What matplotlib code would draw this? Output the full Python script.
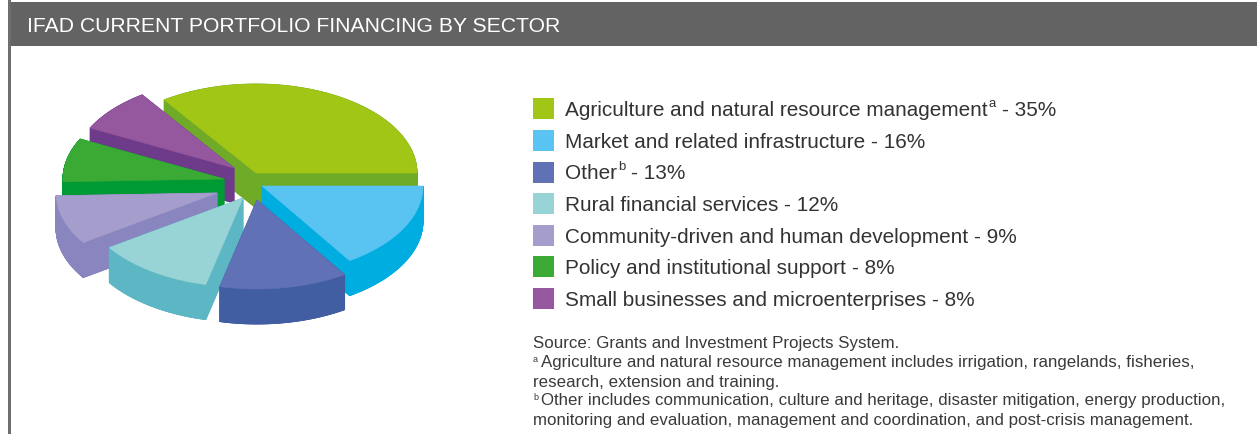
import numpy as np
import matplotlib
matplotlib.use("Agg")
import matplotlib.pyplot as plt

plt.rcParams['font.family'] = ['Liberation Sans', 'DejaVu Sans']

# data
sectors = ["Agriculture and natural resource management", "Market and related infrastructure", "Other",
           "Rural financial services", "Community-driven and human development",
           "Policy and institutional support", "Small businesses and microenterprises"]
shares = [35, 16, 13, 12, 9, 8, 8]
notes = ["a", "", "b", "", "", "", ""]
top_colors = ['#A2C616', '#59C3F2', '#6171B5', '#98D4D5', '#A59DCC', '#3BAA35', '#95579D']
side_colors = ['#70AB28', '#00ADE1', '#405EA1', '#5DB6C4', '#8885BF', '#009A35', '#6E3B8A']

title = "IFAD CURRENT PORTFOLIO FINANCING BY SECTOR"
source_lines = ["Source: Grants and Investment Projects System.",
                "Agriculture and natural resource management includes irrigation, rangelands, fisheries,",
                "research, extension and training.",
                "Other includes communication, culture and heritage, disaster mitigation, energy production,",
                "monitoring and evaluation, management and coordination, and post-crisis management."]
source_marks = ["", "a", "", "b", ""]

# pie geometry, pixels
apex = [(256, 173), (262, 186), (257, 200), (243, 198), (217, 193), (224, 179), (234, 168)]
rx, ry, depth = 161, 89, 35
draw_order = [0, 6, 5, 4, 1, 3, 2]

fig = plt.figure(figsize=(12.57, 4.34), dpi=100)
ax = fig.add_axes([0, 0, 1, 1])
ax.set_xlim(0, 1257)
ax.set_ylim(434, 0)
ax.axis('off')

# header and frame
ax.fill_between([9, 1257], 2, 46, color='#636363', lw=0)
ax.fill_between([8, 11], 0, 434, color='#6E6E6E', lw=0)
ax.text(27, 32, title, color='white', fontsize=15.2, va='baseline')

# slices go clockwise, the first one ends at 3 o'clock. shares add up to 101
deg = 360 / sum(shares)
ends = np.cumsum([0] + shares[1:]) * -deg
starts = [shares[0] * deg] + list(ends[:-1])
stops = [0] + list(ends[1:])


def slice_outline(i):
    th = np.radians(np.linspace(starts[i], stops[i], 120))
    xs = apex[i][0] + rx * np.cos(th)
    ys = apex[i][1] - ry * np.sin(th)
    return np.r_[apex[i][0], xs, apex[i][0]], np.r_[apex[i][1], ys, apex[i][1]]


for i in draw_order:
    xs, ys = slice_outline(i)
    ax.fill(xs, ys + depth, color=side_colors[i], lw=0.6)
    for k in range(len(xs) - 1):
        ax.fill([xs[k], xs[k + 1], xs[k + 1], xs[k]],
                [ys[k], ys[k + 1], ys[k + 1] + depth, ys[k] + depth],
                color=side_colors[i], lw=0.6)
    ax.fill(xs, ys, color=top_colors[i], lw=0.4)

# legend
legend_base = [116, 148, 179, 211, 243, 274, 306]
box_top = [98, 130, 162, 193, 225, 256, 288]
r = fig.canvas.get_renderer()
for i, sector in enumerate(sectors):
    ax.fill_between([533, 554], box_top[i], box_top[i] + 21, color=top_colors[i], lw=0)
    t = ax.text(565, legend_base[i], sector, fontsize=14.95, color='#333333', va='baseline')
    x = 565 + t.get_window_extent(r).width
    if notes[i]:
        n = ax.text(x + 1, legend_base[i] - 9, notes[i], fontsize=9.5, color='#333333', va='baseline')
        x = x + 1 + n.get_window_extent(r).width
    ax.text(x + 6, legend_base[i], f"- {shares[i]}%", fontsize=14.95, color='#333333', va='baseline')

# source notes
source_base = [348, 367, 387, 405, 425]
for line, mark, y in zip(source_lines, source_marks, source_base):
    x = 533
    if mark:
        ax.text(x, y - 5, mark, fontsize=6.5, color='#3A3A3A', va='baseline')
        x = 541
    ax.text(x, y, line, fontsize=12.15, color='#3A3A3A', va='baseline')

fig.savefig("out.png", dpi=100)
